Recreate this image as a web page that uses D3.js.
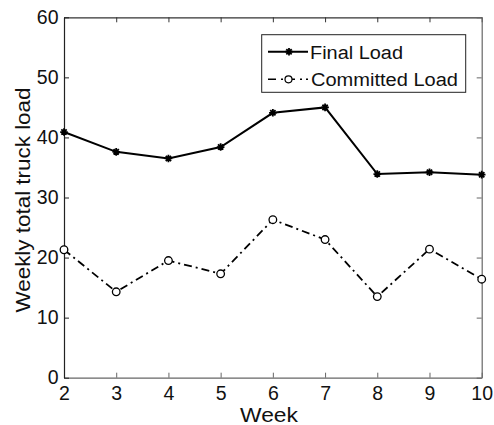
<!DOCTYPE html>
<html>
<head>
<meta charset="utf-8">
<script src="https://cdn.jsdelivr.net/npm/d3@7"></script>
<style>
  body { margin: 0; background: #fff; }
  text { font-family: "Liberation Sans", Arial, sans-serif; fill: #111; }
</style>
</head>
<body>
<svg id="chart" width="494" height="425"></svg>
<script>
const weeks = [2, 3, 4, 5, 6, 7, 8, 9, 10];
const finalLoad = [40.9, 37.6, 36.5, 38.4, 44.1, 45.0, 33.9, 34.2, 33.8];
const committedLoad = [21.3, 14.3, 19.5, 17.3, 26.3, 23.0, 13.5, 21.4, 16.4];
const yTicks = [0, 10, 20, 30, 40, 50, 60];
const xTicks = [2, 3, 4, 5, 6, 7, 8, 9, 10];

const margin = { top: 17.3, right: 12.3, bottom: 47.3, left: 64 };
const width = 494, height = 425;

const svg = d3.select("#chart");

const x = d3.scaleLinear().domain([2, 10]).range([margin.left, width - margin.right]);
const y = d3.scaleLinear().domain([0, 60]).range([height - margin.bottom, margin.top]);

// stretch a text to a given width (the original font is wider than Arial)
function stretch(sel, w) {
    sel.attr("textLength", w).attr("lengthAdjust", "spacingAndGlyphs");
}

// box and inward ticks
const tickLen = 5;
svg.append("g")
    .attr("transform", `translate(0,${y(0)})`)
    .call(d3.axisBottom(x).tickValues(xTicks).tickSizeInner(-tickLen).tickSizeOuter(0).tickPadding(8))
    .call(g => g.selectAll("text").attr("font-size", 19.5))
    .call(g => g.selectAll("line, path").attr("stroke", "#666"));

svg.append("g")
    .attr("transform", `translate(0,${y(60)})`)
    .call(d3.axisTop(x).tickValues(xTicks).tickSizeInner(-tickLen).tickSizeOuter(0).tickFormat(""))
    .call(g => g.selectAll("line, path").attr("stroke", "#333"));

svg.append("g")
    .attr("transform", `translate(${x(2)},0)`)
    .call(d3.axisLeft(y).tickValues(yTicks).tickSizeInner(-tickLen).tickSizeOuter(0).tickPadding(5.5))
    .call(g => g.selectAll("text").attr("font-size", 19.5))
    .call(g => g.selectAll("line, path").attr("stroke", "#222"));

svg.append("g")
    .attr("transform", `translate(${x(10)},0)`)
    .call(d3.axisRight(y).tickValues(yTicks).tickSizeInner(-tickLen).tickSizeOuter(0).tickFormat(""))
    .call(g => g.selectAll("line, path").attr("stroke", "#666"));

svg.selectAll(".domain").attr("stroke-width", 1.2);

// axis labels
svg.append("text")
    .attr("x", 269)
    .attr("y", 422)
    .attr("text-anchor", "middle")
    .attr("font-size", 19.5)
    .text("Week")
    .call(stretch, 58);

svg.append("text")
    .attr("transform", `translate(30,200) rotate(-90)`)
    .attr("text-anchor", "middle")
    .attr("font-size", 19.5)
    .text("Weekly total truck load")
    .call(stretch, 225);

const line = d3.line().x(d => x(d[0])).y(d => y(d[1]));

const finalData = weeks.map((w, i) => [w, finalLoad[i]]);
const committedData = weeks.map((w, i) => [w, committedLoad[i]]);

svg.append("path")
    .datum(finalData)
    .attr("d", line)
    .attr("fill", "none")
    .attr("stroke", "#000")
    .attr("stroke-width", 2);

svg.append("path")
    .datum(committedData)
    .attr("d", line)
    .attr("fill", "none")
    .attr("stroke", "#000")
    .attr("stroke-width", 1.8)
    .attr("stroke-dasharray", "8,4,2,4");

function star(g, cx, cy) {
    const s = 3.8;
    g.append("path")
        .attr("d", `M${cx - s},${cy}L${cx + s},${cy}M${cx},${cy - s}L${cx},${cy + s}` +
            `M${cx - s * 0.7},${cy - s * 0.7}L${cx + s * 0.7},${cy + s * 0.7}` +
            `M${cx - s * 0.7},${cy + s * 0.7}L${cx + s * 0.7},${cy - s * 0.7}`)
        .attr("stroke", "#000")
        .attr("stroke-width", 1.8);
}

const finalMarks = svg.append("g");
finalData.forEach(d => star(finalMarks, x(d[0]), y(d[1])));

svg.append("g")
    .selectAll("circle")
    .data(committedData)
    .join("circle")
    .attr("cx", d => x(d[0]))
    .attr("cy", d => y(d[1]))
    .attr("r", 3.8)
    .attr("fill", "#fff")
    .attr("stroke", "#000")
    .attr("stroke-width", 1.3);

// legend
const lg = svg.append("g");
lg.append("rect")
    .attr("x", 261.7).attr("y", 34.7)
    .attr("width", 204).attr("height", 57.6)
    .attr("fill", "#fff")
    .attr("stroke", "#222")
    .attr("stroke-width", 1);

lg.append("line")
    .attr("x1", 268).attr("x2", 308).attr("y1", 51.7).attr("y2", 51.7)
    .attr("stroke", "#000").attr("stroke-width", 2);
star(lg, 289, 51.7);
lg.append("text").attr("x", 310).attr("y", 58.5).attr("font-size", 18)
    .text("Final Load").call(stretch, 93);

lg.append("line")
    .attr("x1", 268).attr("x2", 308).attr("y1", 79.3).attr("y2", 79.3)
    .attr("stroke", "#000").attr("stroke-width", 1.6)
    .attr("stroke-dasharray", "8,5,2,4");
lg.append("circle")
    .attr("cx", 288.5).attr("cy", 79.3).attr("r", 3.5)
    .attr("fill", "#fff").attr("stroke", "#000").attr("stroke-width", 1.2);
lg.append("text").attr("x", 311).attr("y", 86).attr("font-size", 18)
    .text("Committed Load").call(stretch, 147);
</script>
</body>
</html>
